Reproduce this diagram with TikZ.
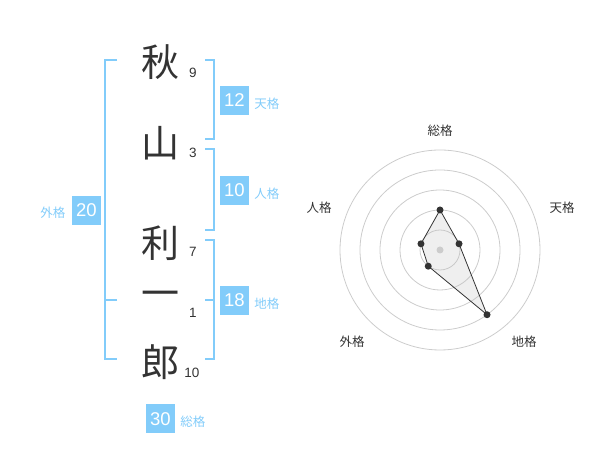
\documentclass[tikz,border=0pt]{standalone}
\usepackage{fontspec}
\setmainfont{Liberation Sans}
\newfontfamily\jp{Noto Sans CJK JP}
\usetikzlibrary{positioning, calc}
\definecolor{skyb}{RGB}{130,204,250}
\definecolor{ink}{RGB}{51,51,51}
\definecolor{ring}{RGB}{204,204,204}

\begin{document}
\begin{tikzpicture}[x=1pt, y=1pt,
    kanji/.style={text=ink, font=\jp\fontsize{38}{38}\selectfont, inner sep=0pt},
    strokes/.style={text=ink, font=\fontsize{13.5}{13.5}\selectfont, inner sep=0pt},
    brk/.style={skyb, line width=2pt},
    kakubox/.style={fill=skyb, text=white, minimum size=29pt, inner sep=0pt,
      font=\fontsize{18.5}{18.5}\selectfont},
    kakulbl/.style={text=skyb, font=\jp\fontsize{12.5}{12.5}\selectfont, inner sep=0pt},
    axislbl/.style={text=ink, font=\jp\fontsize{12.5}{12.5}\selectfont, inner sep=0pt},
    dot/.style={circle, fill=ink, inner sep=0pt, minimum size=7pt}]
      \useasboundingbox (0,0) rectangle (600,470);

      % name characters and stroke counts
      \node[kanji] (c1) at (160,408) {秋};
      \node[kanji] (c2) at (160,327) {山};
      \node[kanji] (c3) at (160,227) {利};
      \node[kanji] (c4) at (160,171) {一};
      \node[kanji] (c5) at (160,108) {郎};
      \node[strokes] (n1) at (193,397) {9};
      \node[strokes] (n2) at (193,317) {3};
      \node[strokes] (n3) at (193,218) {7};
      \node[strokes] (n4) at (193,157) {1};
      \node[strokes] (n5) at (192,97) {10};

      % brackets
      \coordinate (ga) at (117,410); \coordinate (gb) at (117,111);
      \coordinate (gm) at (117,170);
      \draw[brk] (ga) -- (105,410) -- (105,111) -- (gb);
      \draw[brk] (gm) -- (105,170);
      \coordinate (ta) at (205,410); \coordinate (tb) at (205,331);
      \draw[brk] (ta) -- (214,410) -- (214,331) -- (tb);
      \coordinate (ja) at (205,321); \coordinate (jb) at (205,240);
      \draw[brk] (ja) -- (214,321) -- (214,240) -- (jb);
      \coordinate (ca) at (205,230); \coordinate (cb) at (205,111);
      \coordinate (cm) at (205,170);
      \draw[brk] (ca) -- (214,230) -- (214,111) -- (cb);
      \draw[brk] (cm) -- (214,170);

      % totals
      \node[kakubox] (b12) at (234.5,369.5) {12};
      \node[kakulbl, right=5pt of b12, yshift=-3pt] (l12) {天格};
      \node[kakubox] (b10) at (234.5,279.5) {10};
      \node[kakulbl, right=5pt of b10, yshift=-3pt] (l10) {人格};
      \node[kakubox] (b18) at (234.5,169.5) {18};
      \node[kakulbl, right=5pt of b18, yshift=-3pt] (l18) {地格};
      \node[kakubox] (b20) at (86.3,259.5) {20};
      \node[kakulbl, left=6pt of b20, yshift=-2pt] (l20) {外格};
      \node[kakubox] (b30) at (160.5,51) {30};
      \node[kakulbl, right=5pt of b30, yshift=-3pt] (l30) {総格};

      % radar chart
      \coordinate (o) at (440,220);
      \foreach \r in {20,40,...,100}
        \draw[ring, line width=0.8pt] (o) circle (\r);
      \coordinate (ps) at ($(o)+(90:40)$);
      \coordinate (pt) at ($(o)+(18:20)$);
      \coordinate (pc) at ($(o)+(-54:80)$);
      \coordinate (pg) at ($(o)+(-126:20)$);
      \coordinate (pj) at ($(o)+(162:20)$);
      \draw[ink, fill=black!25, fill opacity=0.25, line width=0.8pt]
        (ps) -- (pt) -- (pc) -- (pg) -- (pj) -- cycle;
      \fill[ring] (o) circle (3.5);
      \foreach \p in {ps,pt,pc,pg,pj}
        \node[dot] (d\p) at (\p) {};

      \node[axislbl] (as) at (440,339) {総格};
      \node[axislbl] (at) at (562,262) {天格};
      \node[axislbl] (ac) at (524,128) {地格};
      \node[axislbl] (ag) at (352,128) {外格};
      \node[axislbl] (aj) at (319,262) {人格};
    \end{tikzpicture}
\end{document}
